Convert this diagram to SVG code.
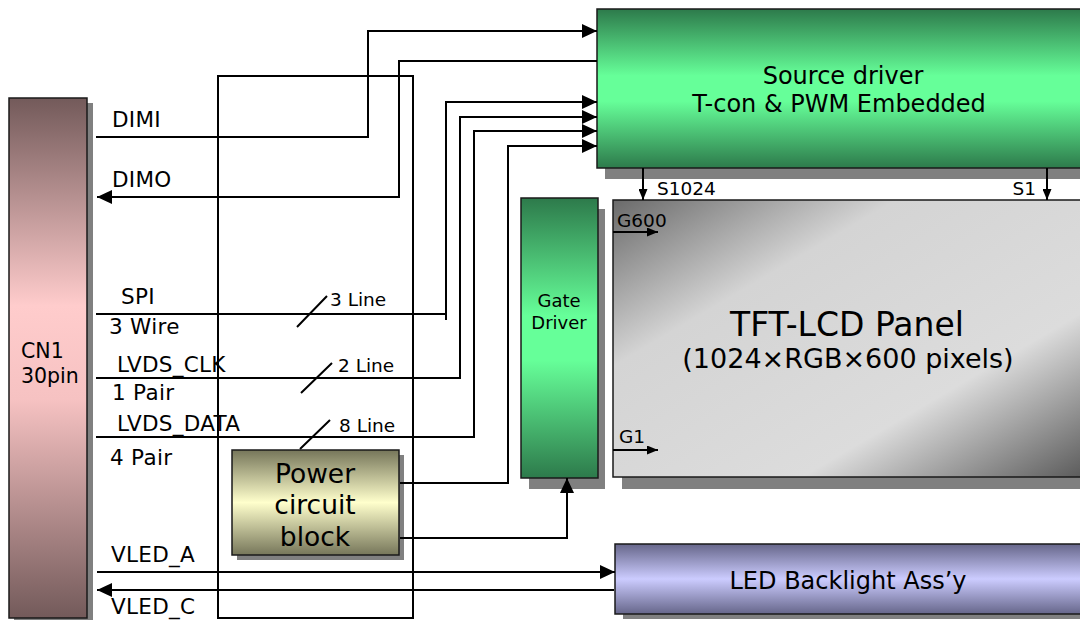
<svg xmlns="http://www.w3.org/2000/svg" width="1080" height="620" viewBox="0 0 1080 620">
<defs>
<linearGradient id="gCN" x1="0" y1="0" x2="0" y2="1">
<stop offset="0" stop-color="#735a5a"/><stop offset="0.4" stop-color="#ffcccc"/><stop offset="0.58" stop-color="#f6c2c2"/><stop offset="1" stop-color="#735a5a"/>
</linearGradient>
<linearGradient id="gGreen" x1="0" y1="0" x2="0" y2="1">
<stop offset="0" stop-color="#2d7a4b"/><stop offset="0.42" stop-color="#66ff99"/><stop offset="0.58" stop-color="#66ff99"/><stop offset="1" stop-color="#2d7a4b"/>
</linearGradient>
<linearGradient id="gPow" x1="0" y1="0" x2="0" y2="1">
<stop offset="0" stop-color="#76765a"/><stop offset="0.5" stop-color="#ffffcc"/><stop offset="1" stop-color="#76765a"/>
</linearGradient>
<linearGradient id="gLed" x1="0" y1="0" x2="0" y2="1">
<stop offset="0" stop-color="#66668a"/><stop offset="0.5" stop-color="#ccccff"/><stop offset="1" stop-color="#66668a"/>
</linearGradient>
<linearGradient id="gTft" x1="0" y1="0" x2="1" y2="1">
<stop offset="0" stop-color="#6a6a6a"/><stop offset="0.3" stop-color="#d4d4d4"/><stop offset="0.7" stop-color="#dcdcdc"/><stop offset="1" stop-color="#5a5a5a"/>
</linearGradient>
<marker id="aBig" markerUnits="userSpaceOnUse" markerWidth="15" markerHeight="14" refX="15" refY="7" orient="auto">
<path d="M0,0 L15,7 L0,14 z" fill="#000"/>
</marker>
<marker id="aSmall" markerUnits="userSpaceOnUse" markerWidth="11" markerHeight="9" refX="11" refY="4.5" orient="auto">
<path d="M0,0 L11,4.5 L0,9 z" fill="#000"/>
</marker>
<style>
.box{stroke:#1a1a1a;stroke-width:1.5}
.sh{fill:#808080}
.w{fill:none;stroke:#000;stroke-width:2}
.t{font-family:"DejaVu Sans","Liberation Sans",sans-serif;fill:#000}
.lb{font-size:21.5px;letter-spacing:0.3px}
.ln{font-size:18.5px}
.c{text-anchor:middle}
</style>
</defs>
<rect width="1080" height="620" fill="#fff"/>

<g id="cn1">
<rect class="sh" x="14" y="103" width="79" height="520"/>
<rect class="box" x="9" y="98" width="78" height="520" fill="url(#gCN)"/>
<text class="t" x="21" y="358" font-size="20.5">CN1</text>
<text class="t" x="21" y="383" font-size="20.5">30pin</text>
</g>

<g id="source-driver">
<rect class="sh" x="605" y="20" width="490" height="159"/>
<rect class="box" x="597" y="9" width="490" height="159" fill="url(#gGreen)"/>
<text class="t c" x="843" y="84" font-size="24">Source driver</text>
<text class="t c" x="839" y="112" font-size="24">T-con &amp; PWM Embedded</text>
</g>

<g id="gate-driver">
<rect class="sh" x="529" y="209" width="76" height="280"/>
<rect class="box" x="521" y="198" width="77" height="280" fill="url(#gGreen)"/>
<text class="t c" x="559" y="307" font-size="18">Gate</text>
<text class="t c" x="559" y="329" font-size="18">Driver</text>
</g>

<g id="tft-panel">
<rect class="sh" x="622" y="212" width="470" height="277"/>
<rect class="box" x="613" y="200" width="472" height="277" fill="url(#gTft)"/>
<text class="t c" x="847" y="336" font-size="33">TFT-LCD Panel</text>
<text class="t c" x="848" y="368" font-size="27">(1024×RGB×600 pixels)</text>
</g>

<g id="power-block">
<rect class="sh" x="237" y="455" width="167" height="105"/>
<rect class="box" x="232" y="450" width="167" height="105" fill="url(#gPow)"/>
<text class="t c" x="315" y="483" font-size="26.5">Power</text>
<text class="t c" x="315" y="514" font-size="26.5">circuit</text>
<text class="t c" x="315" y="546" font-size="26.5">block</text>
</g>

<g id="led-backlight">
<rect class="sh" x="623" y="549" width="470" height="70"/>
<rect class="box" x="615" y="544" width="472" height="70" fill="url(#gLed)"/>
<text class="t c" x="848" y="589" font-size="24">LED Backlight Ass’y</text>
</g>

<g id="connectors">
<path class="w" d="M96,137 H368 V31 H597" marker-end="url(#aBig)"/>
<path class="w" d="M597,61 H399 V197 H97" marker-end="url(#aBig)"/>
<rect class="w" x="218" y="76" width="195" height="542"/>
<path class="w" d="M96,314 H446"/>
<path class="w" d="M446,320 V102 H597" marker-end="url(#aBig)"/>
<path class="w" d="M96,378 H460 V117 H597" marker-end="url(#aBig)"/>
<path class="w" d="M96,437 H474 V131 H597" marker-end="url(#aBig)"/>
<path class="w" d="M400,483 H508 V146 H597" marker-end="url(#aBig)"/>
<path class="w" d="M400,538 H567 V478" marker-end="url(#aBig)"/>
<path class="w" d="M97,572 H615" marker-end="url(#aBig)"/>
<path class="w" d="M614,590 H97" marker-end="url(#aBig)"/>
<path class="w" d="M643,168 V200" marker-end="url(#aSmall)"/>
<path class="w" d="M1047,168 V200" marker-end="url(#aSmall)"/>
<path class="w" d="M613,232 H658" marker-end="url(#aSmall)"/>
<path class="w" d="M613,450 H658" marker-end="url(#aSmall)"/>
<path class="w" d="M297,327 L327,296 M301,393 L332,363 M300,449 L330,420"/>
</g>

<g id="labels">
<text class="t lb" x="112" y="127">DIMI</text>
<text class="t lb" x="112" y="187">DIMO</text>
<text class="t lb" x="121" y="304">SPI</text>
<text class="t lb" x="109" y="334">3 Wire</text>
<text class="t lb" x="117" y="372">LVDS_CLK</text>
<text class="t lb" x="112" y="400">1 Pair</text>
<text class="t lb" x="117" y="431">LVDS_DATA</text>
<text class="t lb" x="110" y="465">4 Pair</text>
<text class="t lb" x="111" y="562">VLED_A</text>
<text class="t lb" x="111" y="614">VLED_C</text>
<text class="t ln" x="330" y="306">3 Line</text>
<text class="t ln" x="338" y="372">2 Line</text>
<text class="t ln" x="339" y="432">8 Line</text>
<text class="t ln" x="657" y="195">S1024</text>
<text class="t ln" x="1036" y="195" text-anchor="end">S1</text>
<text class="t ln" x="617" y="227">G600</text>
<text class="t ln" x="619" y="443">G1</text>
</g>
</svg>
